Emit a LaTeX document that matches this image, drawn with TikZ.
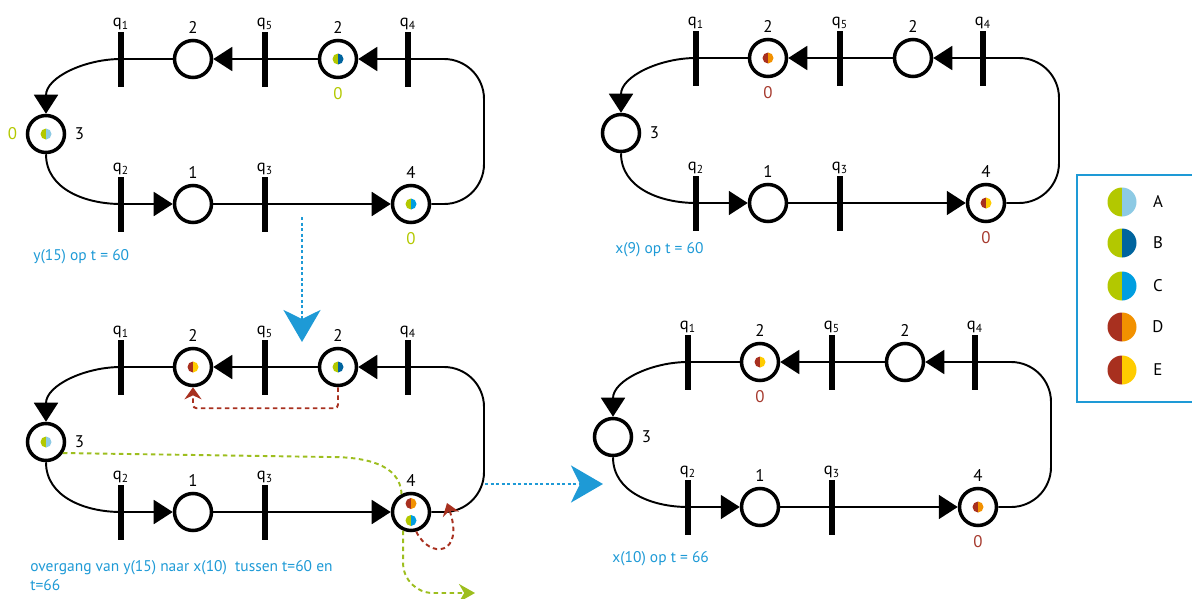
\documentclass[tikz,border=0pt]{standalone}
\usepackage{fontspec}
\setmainfont{PT Sans}
\usepackage{tikz}
\usetikzlibrary{
  arrows.meta,
  positioning,
  calc
}
\definecolor{tkLime}{HTML}{B3C800}
\definecolor{tkSky}{HTML}{8DCAE4}
\definecolor{tkNavy}{HTML}{00649E}
\definecolor{tkCyan}{HTML}{009EE0}
\definecolor{tkRed}{HTML}{A8301F}
\definecolor{tkOrange}{HTML}{F29100}
\definecolor{tkYellow}{HTML}{FFCC00}
\definecolor{lblBlue}{HTML}{1E9AD6}
\definecolor{zeroRed}{HTML}{A63A2E}
\definecolor{flowGreen}{HTML}{9DBE1E}
\tikzset{
  place/.style={draw, circle, line width=2pt, minimum size=7.4mm, inner sep=0pt},
  bar/.style={fill=black, minimum width=1.1mm, minimum height=11mm, inner sep=0pt},
  numlabel/.style={font=\fontsize{9.6}{11}\selectfont, inner sep=1pt},
  qlabel/.style={font=\fontsize{9.4}{11}\selectfont, inner sep=0.6pt},
  zero/.style={font=\fontsize{9.6}{11}\selectfont, inner sep=1pt},
  arcline/.style={line width=1.1pt},
  arcto/.style={arcline, -{Triangle[length=3.8mm, width=4.8mm]}},
  caption/.style={font=\fontsize{8.8}{10.8}\selectfont, text=lblBlue, anchor=west, inner sep=0pt, align=left},
  shiftarrow/.style={line width=1.7pt, lblBlue, dash pattern=on 0.6mm off 0.5mm,
    -{Stealth[length=6.4mm, width=7.4mm, inset=1.8mm]}},
  redflow/.style={line width=1.1pt, tkRed, dash pattern=on 0.9mm off 0.7mm,
    -{Stealth[length=2.4mm, width=3.4mm]}},
  greenflow/.style={line width=1.1pt, flowGreen, dash pattern=on 0.9mm off 0.7mm,
    -{Stealth[length=3.2mm, width=3.6mm]}},
  legendframe/.style={draw=lblBlue, line width=1.1pt}
}
% split token: left half #3, right half #4
\newcommand{\tokendot}[4][0.11]{%
  \fill[#3] (#2) ++(0,#1) arc[start angle=90, end angle=270, radius=#1] -- cycle;
  \fill[#4] (#2) ++(0,-#1) arc[start angle=-90, end angle=90, radius=#1] -- cycle;
}
% one ring of places and transitions, node names prefixed by #1
\newcommand{\drawnet}[1]{%
  \node[place, label={[numlabel, label distance=1.3mm]right:3}] (#1p3) at (0,0) {};
  \node[bar, label={[qlabel]above:q\textsubscript{1}}] (#1q1) at (1.5,1.5) {};
  \node[place, label={[numlabel, label distance=0.6mm]above:2}] (#1p2a) at (2.94,1.5) {};
  \node[bar, label={[qlabel]above:q\textsubscript{5}}] (#1q5) at (4.38,1.5) {};
  \node[place, label={[numlabel, label distance=0.6mm]above:2}] (#1p2b) at (5.84,1.5) {};
  \node[bar, label={[qlabel]above:q\textsubscript{4}}] (#1q4) at (7.24,1.5) {};
  \node[bar, label={[qlabel]above:q\textsubscript{2}}] (#1q2) at (1.5,-1.4) {};
  \node[place, label={[numlabel, label distance=0.6mm]above:1}] (#1p1) at (2.94,-1.4) {};
  \node[bar, label={[qlabel]above:q\textsubscript{3}}] (#1q3) at (4.38,-1.4) {};
  \node[place, label={[numlabel, label distance=0.6mm]above:4}] (#1p4) at (7.3,-1.4) {};
  \draw[arcto] (#1q4) -- (#1p2b);
  \draw[arcline] (#1p2b) -- (#1q5);
  \draw[arcto] (#1q5) -- (#1p2a);
  \draw[arcline] (#1p2a) -- (#1q1);
  \draw[arcto] (#1q1.center) to[out=180, in=90] (#1p3);
  \draw[arcline] (#1p3) to[out=-90, in=180] (#1q2.center);
  \draw[arcto] (#1q2) -- (#1p1);
  \draw[arcline] (#1p1) -- (#1q3);
  \draw[arcto] (#1q3) -- (#1p4);
  \draw[arcline, rounded corners=8mm] (#1p4.east) -| (8.76,1.5) -- (#1q4.center);
}

\begin{document}
\begin{tikzpicture}
  \useasboundingbox (0,0) rectangle (23.84,-11.98);

  % y(15) at t=60
  \begin{scope}[shift={(0.92,-2.68)}]
    \drawnet{tl}
    \tokendot{tlp2b}{tkLime}{tkNavy}
    \tokendot{tlp3}{tkLime}{tkSky}
    \tokendot{tlp4}{tkLime}{tkCyan}
    \node[zero, text=tkLime, below=1.3mm of tlp2b] (tlz2) {0};
    \node[zero, text=tkLime, left=1.3mm of tlp3] (tlz3) {0};
    \node[zero, text=tkLime, below=1.3mm of tlp4] (tlz4) {0};
  \end{scope}
  \node[caption] (tlcap) at (0.66,-5.14) {y(15) op t = 60};

  % x(9) at t=60
  \begin{scope}[shift={(12.42,-2.66)}]
    \drawnet{tr}
    \tokendot{trp2a}{tkRed}{tkOrange}
    \tokendot{trp4}{tkRed}{tkYellow}
    \node[zero, text=zeroRed, below=1.3mm of trp2a] (trz2) {0};
    \node[zero, text=zeroRed, below=1.3mm of trp4] (trz4) {0};
  \end{scope}
  \node[caption] (trcap) at (12.3,-5.0) {x(9) op t = 60};

  % transition between both states
  \begin{scope}[shift={(0.92,-8.84)}]
    \drawnet{bl}
    \tokendot{blp2a}{tkRed}{tkYellow}
    \tokendot{blp2b}{tkLime}{tkNavy}
    \tokendot{blp3}{tkLime}{tkSky}
    \tokendot{[yshift=1.7mm]blp4.center}{tkRed}{tkOrange}
    \tokendot{[yshift=-1.7mm]blp4.center}{tkLime}{tkCyan}
    \coordinate (blg1) at (5.68,-0.30);
    \coordinate (blg2) at (8.58,-3.02);
    \coordinate (blr1) at (8.02,-1.22);
    \draw[redflow, rounded corners=2pt] (blp2b.south) -- ++(0,-0.42) -| (blp2a.south);
    \draw[greenflow, -] (blp3.-33) -- (blg1) to[out=0, in=92] (blp4.118);
    \draw[greenflow, rounded corners=6mm] (blp4.247) |- (blg2);
    \draw[redflow] (blp4.-75) .. controls (7.68,-2.36) and (8.38,-2.26) .. (blr1);
  \end{scope}
  \node[caption] (blcap) at (0.6,-11.51) {overgang van y(15) naar x(10)\ \ tussen t=60 en\\t=66};

  % x(10) at t=66
  \begin{scope}[shift={(12.26,-8.74)}]
    \drawnet{br}
    \tokendot{brp2a}{tkRed}{tkYellow}
    \tokendot{brp4}{tkRed}{tkOrange}
    \node[zero, text=zeroRed, below=1.3mm of brp2a] (brz2) {0};
    \node[zero, text=zeroRed, below=1.3mm of brp4] (brz4) {0};
  \end{scope}
  \node[caption] (brcap) at (12.24,-11.18) {x(10) op t = 66};

  \coordinate (dn1) at (6.04,-4.34);
  \coordinate (dn2) at (6.04,-6.84);
  \coordinate (rt1) at (9.7,-9.68);
  \coordinate (rt2) at (12.06,-9.68);
  \draw[shiftarrow] (dn1) -- (dn2);
  \draw[shiftarrow] (rt1) -- (rt2);

  % legend
  \draw[legendframe] (23.9,-3.5) -| (21.54,-8.04) -- (23.9,-8.04);
  \tokendot[0.29]{22.44,-4.04}{tkLime}{tkSky}
  \tokendot[0.29]{22.44,-4.86}{tkLime}{tkNavy}
  \tokendot[0.29]{22.44,-5.72}{tkLime}{tkCyan}
  \tokendot[0.29]{22.44,-6.54}{tkRed}{tkOrange}
  \tokendot[0.29]{22.44,-7.40}{tkRed}{tkYellow}
  \node[numlabel] (lgA) at (23.16,-4.04) {A};
  \node[numlabel] (lgB) at (23.16,-4.86) {B};
  \node[numlabel] (lgC) at (23.16,-5.72) {C};
  \node[numlabel] (lgD) at (23.16,-6.54) {D};
  \node[numlabel] (lgE) at (23.16,-7.40) {E};
\end{tikzpicture}
\end{document}
